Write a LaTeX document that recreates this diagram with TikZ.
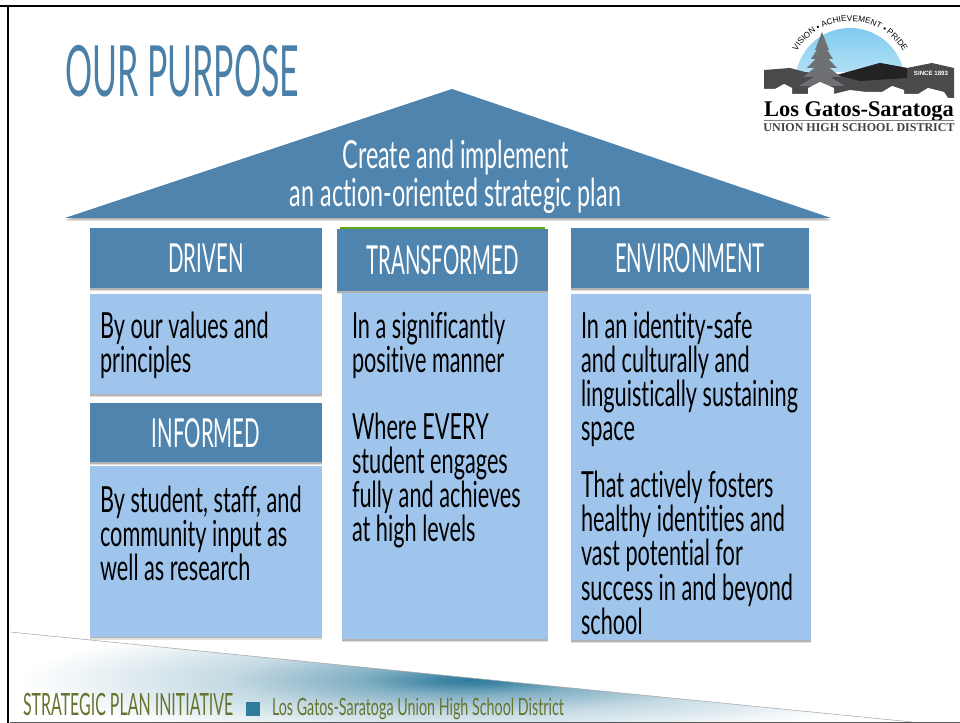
\documentclass[tikz,border=0pt]{standalone}
\usepackage{fontspec}
\setmainfont[FakeStretch=0.603,Ligatures=NoCommon]{Lato}
\newfontfamily\titlefont[FakeStretch=0.48,Ligatures=NoCommon]{Lato}
\newfontfamily\headfont[FakeStretch=0.51,Ligatures=NoCommon]{Lato}
\newfontfamily\footfont[FakeStretch=0.52,Ligatures=NoCommon]{Lato}
\newfontfamily\logofont{Liberation Serif}
\newfontfamily\mottofont{Liberation Sans}
\newcommand{\mottosize}{\mottofont\fontsize{6.2}{7}\selectfont}
\usetikzlibrary{calc,positioning,shadows,decorations.text}

\definecolor{roofblue}{HTML}{4F84AE}
\definecolor{bodyblue}{HTML}{A0C5EC}
\definecolor{titleblue}{HTML}{4A80A8}
\definecolor{footolive}{HTML}{66742F}
\definecolor{footteal}{HTML}{2F7B9C}
\definecolor{barkgreen}{HTML}{5FA70C}
\definecolor{logodark}{HTML}{4A4A4C}
\definecolor{logoblack}{HTML}{232326}
\definecolor{logotree}{HTML}{6E7073}
\definecolor{logosky}{HTML}{7FCBEF}

\pgfdeclareradialshading{footglow}{\pgfpointorigin}{
    color(0bp)=(footteal);
    color(2bp)=(footteal!90);
    color(6bp)=(footteal!60);
    color(13bp)=(footteal!28);
    color(24bp)=(white);
    color(50bp)=(white)
}

\begin{document}
\begin{tikzpicture}[x=0.75pt,y=-0.75pt
    , every node/.style={inner sep=0pt,outer sep=0pt}
    , softshadow/.style={
        general shadow={shadow xshift=0pt,shadow yshift=-2.2pt,opacity=0.12,fill=black},
        general shadow={shadow xshift=0pt,shadow yshift=-1.2pt,opacity=0.2,fill=black}}
    , headbox/.style={anchor=north west,fill=roofblue,softshadow,text=white,font=\headfont\fontsize{30}{32}\selectfont}
    , bodybox/.style={anchor=north west,fill=bodyblue,softshadow}
    , bodytext/.style={anchor=north west,align=left,text=black,font=\fontsize{27}{25.6}\selectfont}
]
    \useasboundingbox (0,0) rectangle (960,723);
    \edef\gap{10}

    % Frame.
    \fill[black] (0,5) rectangle (960,7.5);
    \fill[black] (6.5,5) rectangle (9,723);

    % Title
    \node[anchor=west,text=titleblue,font=\titlefont\fontsize{53}{56}\selectfont] (title) at (65,71) {OUR PURPOSE};

    % Roof
    \fill[roofblue,softshadow] (452,89) -- (831,218) -- (65,218) -- cycle;
    \node[align=center,text=white,font=\fontsize{29}{28.5}\selectfont] (roof) at (455.5,177)
        {Create and implement\\an action-oriented strategic plan};

    % Driven
    \node[headbox,minimum width=174pt,minimum height=45pt] (driven) at (90,228) {DRIVEN};
    \node[bodybox,minimum width=174pt,minimum height=75pt] (drivenbody) at (90,294) {};
    \node[bodytext] at ($(drivenbody.north west)+(\gap,18)$) {By our values and\\principles};

    % Informed
    \node[headbox,minimum width=174pt,minimum height=44.5pt] (informed) at (90,403) {INFORMED};
    \node[bodybox,minimum width=174pt,minimum height=128pt] (informedbody) at (90,466) {};
    \node[bodytext] at ($(informedbody.north west)+(\gap,20)$) {By student, staff, and\\community input as\\well as research};

    % Transformed
    \fill[barkgreen] (340,227) rectangle (545,231);
    \node[headbox,softshadow/.style={},minimum width=158.25pt,minimum height=46.5pt] (transformed) at (337,229) {TRANSFORMED};
    \node[bodybox,minimum width=154.5pt,minimum height=259.5pt] (transformedbody) at (342,293) {};
    \node[bodytext] (transformedtop) at ($(transformedbody.north west)+(\gap,19)$) {In a significantly\\positive manner};
    \node[bodytext,below=25.5pt of transformedtop.south west,anchor=north west] {Where EVERY\\student engages\\fully and achieves\\at high levels};

    % Environment
    \node[headbox,minimum width=178.5pt,minimum height=45pt] (environment) at (571,228) {ENVIRONMENT};
    \node[bodybox,minimum width=180pt,minimum height=259.5pt] (environmentbody) at (571,294) {};
    \node[bodytext] (environmenttop) at ($(environmentbody.north west)+(\gap,18)$)
        {In an identity-safe\\and culturally and\\linguistically sustaining\\space};
    \node[bodytext,below=18pt of environmenttop.south west,anchor=north west]
        {That actively fosters\\healthy identities and\\vast potential for\\success in and beyond\\school};

    % Logo
    \begin{scope}
        \clip (790,20) rectangle (910,72);
        \shade[top color=logosky,bottom color=white] (850,83) circle (55);
    \end{scope}
    \path[decorate,decoration={text along path,text align=center,
        text={|\mottosize|VISION • ACHIEVEMENT • PRIDE}}]
        (793,59) arc (-157:-23:62);
    \fill[logodark] (764,70) -- (790,68) -- (805,72) -- (837,75) -- (880,63) -- (907,68)
        -- (932,63) -- (954,68) -- (954,98) -- (764,98) -- cycle;
    \fill[logoblack] (837,75) -- (880,63) -- (907,68) -- (907,78) -- (860,81) -- cycle;
    \foreach \t in {0,1,2,3,4}
        \fill[logotree] (822,32+\t*10) -- (822-7-\t*4,50+\t*9) -- (822+7+\t*4,50+\t*9) -- cycle;
    \fill[white] (764,98) -- (764,89) -- (775,89) -- (784,84) -- (792,88) -- (792,94) -- (808,94)
        -- (808,88) -- (820,82) -- (834,88) -- (834,94) -- (850,90) -- (866,92) -- (882,92) -- (892,86)
        -- (904,90) -- (904,94) -- (918,94) -- (928,88) -- (944,92) -- (948,98) -- cycle;
    \node[text=white,font=\mottofont\bfseries\fontsize{4.6}{5}\selectfont] (since) at (931,73) {SINCE 1893};
    \node[anchor=base,font=\logofont\bfseries\fontsize{16.8}{18}\selectfont] (logoname) at (859,117) {Los Gatos-Saratoga};
    \draw[gray,line width=0.6pt] (764,120) -- (954,120);
    \node[anchor=base,text=black!75,font=\logofont\bfseries\fontsize{9}{10}\selectfont] (logodistrict) at (859,132) {UNION HIGH SCHOOL DISTRICT};

    % Footer
    \begin{scope}
        \clip (10,632) -- (912,722) -- (10,722) -- cycle;
        \shade[shading=footglow] (471,680) ellipse (470 and 62);
    \end{scope}
    \draw[gray!70,line width=0.4pt] (10,632) -- (912,722);
    \fill[gray!70!black] (10,721.5) rectangle (960,723);
    \node[anchor=base west,text=footolive,font=\footfont\fontsize{23}{25}\selectfont] (initiative) at (23,715) {STRATEGIC PLAN INITIATIVE};
    \fill[footteal] (246,702) rectangle (260,716);
    \node[anchor=base west,text=footolive,font=\fontsize{17.8}{20}\selectfont] (district) at (272,715) {Los Gatos-Saratoga Union High School District};
\end{tikzpicture}
\end{document}
